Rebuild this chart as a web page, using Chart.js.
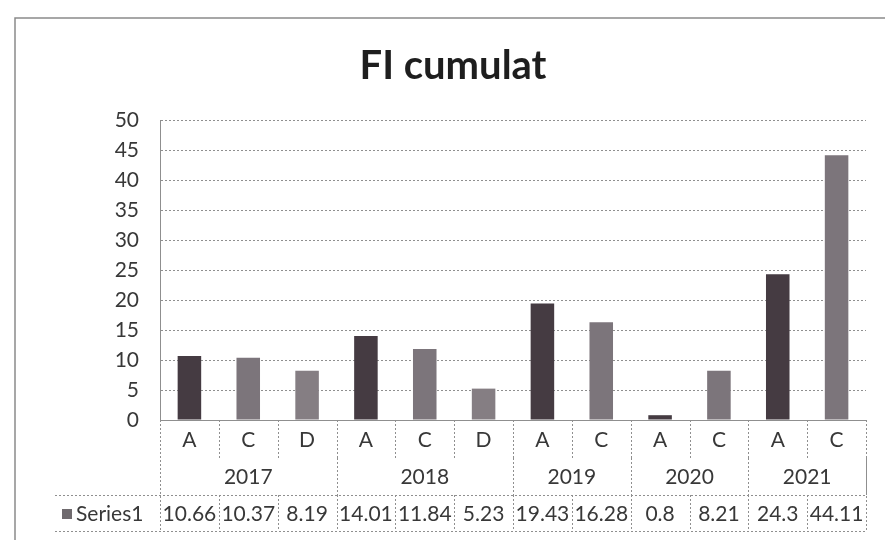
<!DOCTYPE html>
<html>
<head>
<meta charset="utf-8">
<script src="https://cdn.jsdelivr.net/npm/chart.js@4.4.1/dist/chart.umd.min.js"></script>
<style>
  html, body { margin: 0; padding: 0; background: #fff; }
  #wrap { width: 885px; height: 540px; }
</style>
</head>
<body>
<div id="wrap"><canvas id="chart" width="885" height="540"></canvas></div>
<script>
// data
const subLabels = ["A", "C", "D", "A", "C", "D", "A", "C", "A", "C", "A", "C"];
const years = ["2017", "2018", "2019", "2020", "2021"];
const yearSpan = [3, 3, 2, 2, 2];
const series1 = [10.66, 10.37, 8.19, 14.01, 11.84, 5.23, 19.43, 16.28, 0.8, 8.21, 24.3, 44.11];
const yMin = 0, yMax = 50, yStep = 5;

const FONT = "Lato, 'Open Sans', sans-serif";
const TEXT = "#383838";
const LINE = "#8f8f8f";

// bar shade by sub-category
const shade = { A: "#453b42", C: "#7c757b", D: "#857e83" };

const tablePlugin = {
  id: "tablePlugin",
  afterDraw(chart) {
    const ctx = chart.ctx;
    const x = chart.scales.x;
    const area = chart.chartArea;
    const colW = (area.right - area.left) / subLabels.length;
    const b = area.bottom;
    const r1 = b + 38, r2 = b + 75, r3 = b + 111;
    const tableLeft = 55;

    ctx.save();
    ctx.strokeStyle = LINE;
    ctx.lineWidth = 1;
    ctx.setLineDash([2, 2]);
    ctx.beginPath();
    ctx.moveTo(area.left + 0.5, b); ctx.lineTo(area.left + 0.5, r3);
    for (let i = 1; i < subLabels.length; i++) {
      const xx = Math.round(area.left + i * colW) + 0.5;
      ctx.moveTo(xx, b); ctx.lineTo(xx, r1);
      ctx.moveTo(xx, r2); ctx.lineTo(xx, r3);
    }
    let idx = 0;
    yearSpan.forEach(n => {
      idx += n;
      const xx = Math.round(area.left + idx * colW) + 0.5;
      ctx.moveTo(xx, r1); ctx.lineTo(xx, r2);
    });
    ctx.moveTo(area.right + 0.5, b); ctx.lineTo(area.right + 0.5, r3);
    ctx.moveTo(tableLeft, r2 + 0.5); ctx.lineTo(area.right, r2 + 0.5);
    ctx.moveTo(tableLeft, r3 + 0.5); ctx.lineTo(area.right, r3 + 0.5);
    ctx.stroke();

    ctx.setLineDash([]);
    ctx.fillStyle = TEXT;
    ctx.font = "21px " + FONT;
    ctx.textAlign = "center";
    ctx.textBaseline = "middle";
    subLabels.forEach((s, i) => {
      const cx = x.getPixelForValue(i);
      ctx.fillText(s, cx, b + 20);
      ctx.fillText(String(series1[i]), cx, (r2 + r3) / 2 + 1);
    });
    let start = 0;
    years.forEach((y, k) => {
      const end = start + yearSpan[k] - 1;
      const cx = (x.getPixelForValue(start) + x.getPixelForValue(end)) / 2;
      ctx.fillText(y, cx, (r1 + r2) / 2 + 1);
      start += yearSpan[k];
    });

    // legend key + series name
    ctx.fillStyle = "#6f6a6e";
    ctx.fillRect(62, (r2 + r3) / 2 - 4, 10, 10);
    ctx.fillStyle = TEXT;
    ctx.textAlign = "left";
    ctx.fillText("Series1", 76, (r2 + r3) / 2 + 1);

    // outer frame
    ctx.strokeStyle = "#8a8a8a";
    ctx.lineWidth = 1.5;
    ctx.beginPath();
    ctx.moveTo(15, 545); ctx.lineTo(15, 18); ctx.lineTo(885, 18);
    ctx.stroke();
    ctx.restore();
  }
};

new Chart(document.getElementById("chart"), {
  type: "bar",
  data: {
    labels: subLabels,
    datasets: [{
      label: "Series1",
      data: series1,
      backgroundColor: subLabels.map(s => shade[s]),
      barPercentage: 0.4,
      categoryPercentage: 1.0
    }]
  },
  options: {
    responsive: false,
    animation: false,
    devicePixelRatio: 1,
    layout: { padding: { left: 40, right: 19, top: 42, bottom: 0 } },
    plugins: {
      legend: { display: false },
      tooltip: { enabled: false },
      title: {
        display: true,
        text: "FI cumulat",
        color: "#1e1e1e",
        font: { family: FONT, size: 40, weight: "bold" },
        padding: { top: 0, bottom: 30 }
      }
    },
    scales: {
      x: {
        grid: { display: false },
        border: { display: true, color: LINE, dash: [2, 2] },
        ticks: { display: false },
        afterFit(scale) { scale.height = 120; }
      },
      y: {
        min: yMin,
        max: yMax,
        ticks: {
          stepSize: yStep,
          padding: 21,
          color: TEXT,
          font: { family: FONT, size: 21 }
        },
        grid: { color: LINE, drawTicks: false },
        border: { display: true, color: LINE, dash: [2, 2] },
        afterFit(scale) { scale.width = 120; }
      }
    }
  },
  plugins: [tablePlugin]
});
</script>
</body>
</html>
